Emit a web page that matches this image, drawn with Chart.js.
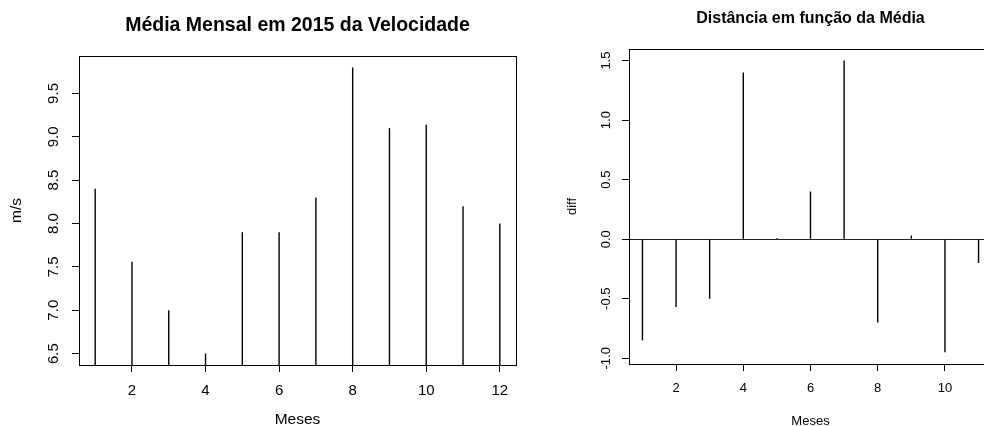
<!DOCTYPE html>
<html>
<head>
<meta charset="utf-8">
<script src="https://cdn.jsdelivr.net/npm/chart.js@4.4.1/dist/chart.umd.min.js"></script>
<style>
   html, body { margin: 0; padding: 0; background: #fff; overflow: hidden; }
   body { width: 984px; height: 426px; position: relative; }
   .panel { position: absolute; top: 0; height: 426px; }
   #left { left: 0; width: 540px; }
   #right { left: 540px; width: 470px; }
</style>
</head>
<body>
<div class="panel" id="left"><canvas id="velocidade"></canvas></div>
<div class="panel" id="right"><canvas id="distancia"></canvas></div>
<script>
// data
const meses = [1, 2, 3, 4, 5, 6, 7, 8, 9, 10, 11, 12];
const velocidade = [8.4, 7.56, 7.0, 6.5, 7.9, 7.9, 8.3, 9.8, 9.1, 9.14, 8.2, 8.0];
const mesesDiff = [1, 2, 3, 4, 5, 6, 7, 8, 9, 10, 11];
const diff = [-0.85, -0.57, -0.5, 1.4, 0.01, 0.4, 1.5, -0.7, 0.03, -0.95, -0.2];

const xTicksVel = [2, 4, 6, 8, 10, 12];
const yTicksVel = [6.5, 7.0, 7.5, 8.0, 8.5, 9.0, 9.5];
const xTicksDiff = [2, 4, 6, 8, 10];
const yTicksDiff = [-1.0, -0.5, 0.0, 0.5, 1.0, 1.5];

const FONT = '"Liberation Sans", Arial, Helvetica, sans-serif';

// same as R's default axis range: data range stretched by 4% on each side
function rRange(values) {
   const lo = Math.min(...values), hi = Math.max(...values);
   const pad = (hi - lo) * 0.04;
   return [lo - pad, hi + pad];
}

const frame = {
   id: 'frame',
   afterDatasetsDraw(chart) {
      const { ctx, chartArea: a } = chart;
      ctx.save();
      ctx.strokeStyle = '#000';
      ctx.lineWidth = 1;
      ctx.strokeRect(Math.round(a.left) + 0.5, Math.round(a.top) + 0.5,
         Math.round(a.right - a.left), Math.round(a.bottom - a.top));
      ctx.restore();
   }
};

function makeChart(canvas, o) {
   const xr = rRange(o.x);
   const yr = rRange(o.y);
   const base = o.base === 'bottom' ? yr[0] : 0;
   return new Chart(canvas, {
      type: 'bar',
      data: {
         datasets: [{
            data: o.x.map((m, i) => ({ x: m, y: [base, o.y[i]] })),
            backgroundColor: '#000',
            borderWidth: 0,
            barThickness: 1.4,
            inflateAmount: 0
         }]
      },
      options: {
         responsive: true,
         maintainAspectRatio: false,
         animation: false,
         devicePixelRatio: 1,
         layout: { padding: { left: 0, right: o.padRight, top: 0, bottom: 0 } },
         scales: {
            x: {
               type: 'linear',
               min: xr[0],
               max: xr[1],
               offset: false,
               border: { display: false },
               grid: { offset: false, drawOnChartArea: false, tickLength: 7, tickColor: '#000' },
               ticks: {
                  color: '#000', font: { family: FONT, size: o.tickSize },
                  padding: o.xTickPad, maxRotation: 0, autoSkip: false,
                  callback: v => String(v)
               },
               afterBuildTicks: s => { s.ticks = o.xTicks.map(v => ({ value: v })); },
               afterFit: s => { s.height = 426 - o.area.bottom; },
               title: {
                  display: true, text: 'Meses', color: '#000',
                  font: { family: FONT, size: o.titleSize, lineHeight: o.xTitleLH },
                  padding: 0
               }
            },
            y: {
               type: 'linear',
               min: yr[0],
               max: yr[1],
               border: { display: false },
               grid: {
                  drawOnChartArea: o.zeroLine,
                  color: c => (o.zeroLine && c.tick && c.tick.value === 0) ? '#222' : 'rgba(0,0,0,0)',
                  tickLength: 7, tickColor: '#000'
               },
               ticks: {
                  color: '#000', font: { family: FONT, size: o.tickSize },
                  minRotation: 90, maxRotation: 90, crossAlign: 'center',
                  padding: o.yTickPad,
                  callback: v => v.toFixed(1)
               },
               afterBuildTicks: s => { s.ticks = o.yTicks.map(v => ({ value: v })); },
               afterFit: s => { s.width = o.area.left; },
               title: {
                  display: true, text: o.yTitle, color: '#000',
                  font: { family: FONT, size: o.titleSize },
                  padding: { top: o.yTitlePad, bottom: 0 }
               }
            }
         },
         plugins: {
            legend: { display: false },
            tooltip: { enabled: false },
            title: {
               display: true, text: o.title, color: '#000',
               fullSize: false,
               font: { family: FONT, size: o.mainSize, weight: 'bold' },
               padding: o.mainPad
            }
         }
      },
      plugins: [frame]
   });
}

makeChart(document.getElementById('velocidade'), {
   x: meses, y: velocidade, base: 'bottom',
   xTicks: xTicksVel, yTicks: yTicksVel,
   title: 'Média Mensal em 2015 da Velocidade', yTitle: 'm/s',
   area: { left: 79, bottom: 365 }, padRight: 24,
   mainSize: 19.5, mainPad: { top: 14, bottom: 18.6 },
   tickSize: 15, titleSize: 15.5, xTitleLH: '12px', yTitlePad: 7,
   xTickPad: 10, yTickPad: 7.5, zeroLine: false
});

makeChart(document.getElementById('distancia'), {
   x: mesesDiff, y: diff, base: 'zero',
   xTicks: xTicksDiff, yTicks: yTicksDiff,
   title: 'Distância em função da Média', yTitle: 'diff',
   area: { left: 89, bottom: 364 }, padRight: 18,
   mainSize: 16, mainPad: { top: 8.7, bottom: 21 },
   tickSize: 13, titleSize: 13, xTitleLH: '10px', yTitlePad: 25,
   xTickPad: 10, yTickPad: 4.8, zeroLine: true
});
</script>
</body>
</html>
